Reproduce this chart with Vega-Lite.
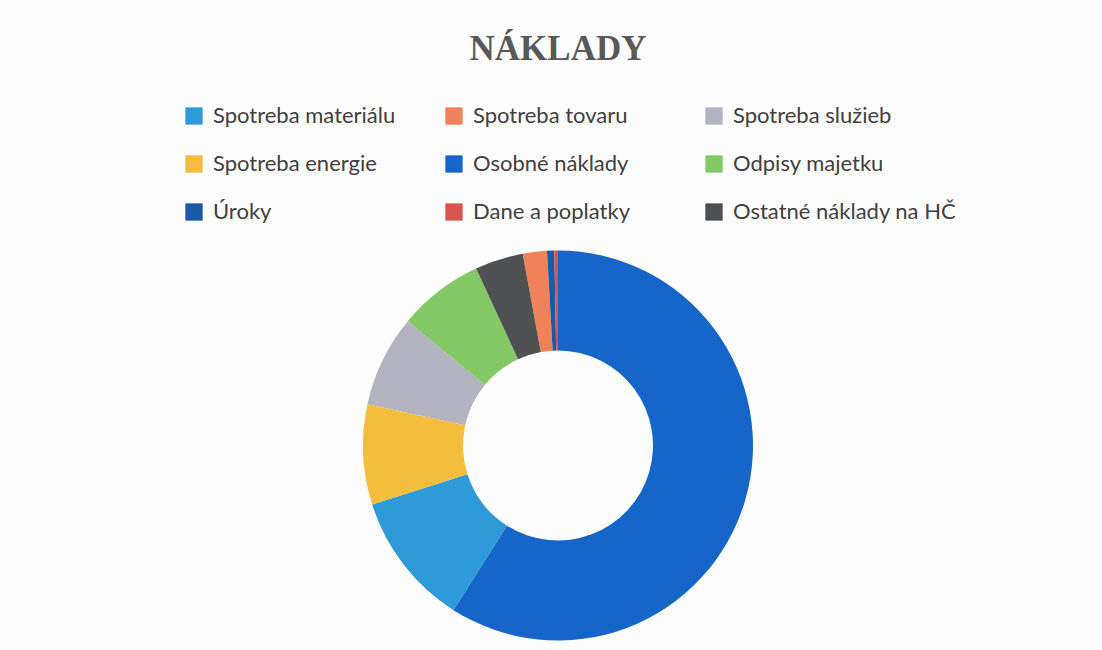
{
  "$schema": "https://vega.github.io/schema/vega-lite/v6.json",
  "width": 1102,
  "height": 650,
  "autosize": {"type": "fit", "contains": "padding"},
  "padding": {"left": 14, "top": 32, "right": 0, "bottom": 0},
  "background": "#fdfdfd",
  "title": {
    "text": "NÁKLADY",
    "font": "Liberation Serif",
    "fontSize": 35,
    "fontWeight": "bold",
    "color": "#595959",
    "anchor": "middle",
    "offset": 174
  },
  "data": {
    "values": [
      {"polozka": "Spotreba materiálu", "podiel": 11.1},
      {"polozka": "Spotreba tovaru", "podiel": 2.0},
      {"polozka": "Spotreba služieb", "podiel": 7.6},
      {"polozka": "Spotreba energie", "podiel": 8.3},
      {"polozka": "Osobné náklady", "podiel": 59.0},
      {"polozka": "Odpisy majetku", "podiel": 7.1},
      {"polozka": "Úroky", "podiel": 0.6},
      {"polozka": "Dane a poplatky", "podiel": 0.3},
      {"polozka": "Ostatné náklady na HČ", "podiel": 4.0}
    ]
  },
  "mark": {"type": "arc", "outerRadius": 195, "innerRadius": 95},
  "encoding": {
    "theta": {"field": "podiel", "type": "quantitative", "stack": true},
    "order": {"field": "podiel", "type": "quantitative", "sort": "descending"},
    "color": {
      "field": "polozka",
      "type": "nominal",
      "scale": {
        "domain": ["Spotreba materiálu", "Spotreba tovaru", "Spotreba služieb", "Spotreba energie", "Osobné náklady", "Odpisy majetku", "Úroky", "Dane a poplatky", "Ostatné náklady na HČ"],
        "range": ["#2f9ad8", "#f0825a", "#b3b3c2", "#f4bd3e", "#1666c9", "#84c965", "#1b5aa6", "#d95451", "#4f5052"]
      },
      "legend": {
        "title": null,
        "orient": "none",
        "direction": "horizontal",
        "columns": 3,
        "gridAlign": "all",
        "legendX": 169,
        "legendY": -136,
        "symbolType": "square",
        "symbolSize": 300,
        "symbolStrokeWidth": 0,
        "labelFont": "Lato",
        "labelFontSize": 22,
        "labelColor": "#404040",
        "labelOffset": 8,
        "labelLimit": 300,
        "columnPadding": 6,
        "rowPadding": 26
      }
    }
  },
  "config": {"view": {"stroke": null}}
}
